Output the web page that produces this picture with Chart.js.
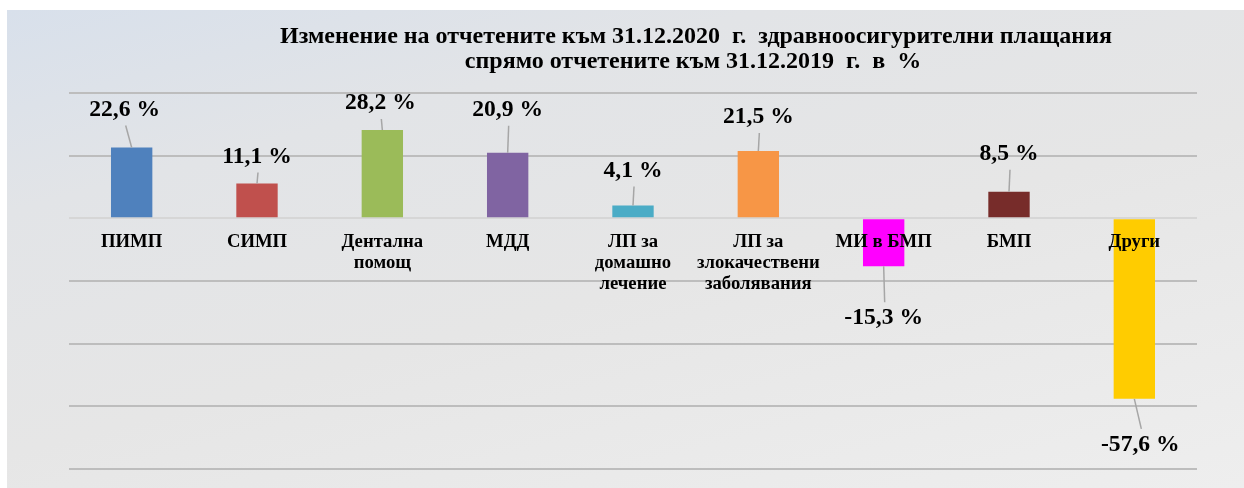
<!DOCTYPE html>
<html>
<head>
<meta charset="utf-8">
<script src="https://cdn.jsdelivr.net/npm/chart.js@4.4.1/dist/chart.umd.min.js"></script>
<style>
    html, body { margin: 0; padding: 0; background: #ffffff; }
    #panel {
        position: absolute;
        left: 7px;
        top: 10px;
        width: 1237px;
        height: 478px;
        background: linear-gradient(165deg, #d8e0eb 0%, #e2e4e7 25%, #e6e6e6 55%, #eeeeee 100%);
    }
    #chart { display: block; }
</style>
</head>
<body>
<div id="panel">
    <canvas id="chart" width="1237" height="478"></canvas>
</div>
<script>
// Data
const categories = [
    ['ПИМП'],
    ['СИМП'],
    ['Дентална', 'помощ'],
    ['МДД'],
    ['ЛП за', 'домашно', 'лечение'],
    ['ЛП за', 'злокачествени', 'заболявания'],
    ['МИ в БМП'],
    ['БМП'],
    ['Други']
];
const changePct = [22.6, 11.1, 28.2, 20.9, 4.1, 21.5, -15.3, 8.5, -57.6];
const barColors = ['#4F81BD', '#C0504D', '#9BBB59', '#8064A2', '#4BACC6', '#F79646', '#FF00FF', '#772C2A', '#FFCC00'];
const titleLines = [
    'Изменение на отчетените към 31.12.2020  г.  здравноосигурителни плащания',
    'спрямо отчетените към 31.12.2019  г.  в  %'
];
const yTicks = { min: -80, max: 40, step: 20 };

// label placement relative to the bar end (dx, gap in px)
const labelShift = [[-7, 38], [0, 27], [-2, 27], [0, 43], [0, 35], [0, 34], [0, 52], [0, 38], [6, 46]];

const FONT = '"Liberation Serif", "Times New Roman", serif';

// draws title, category names at the zero line and value labels with leader lines
const customText = {
    id: 'customText',
    afterDatasetsDraw(chart) {
        const ctx = chart.ctx;
        const xs = chart.scales.x;
        const ys = chart.scales.y;
        const zeroY = ys.getPixelForValue(0);
        const meta = chart.getDatasetMeta(0);

        ctx.save();
        ctx.textAlign = 'center';
        ctx.textBaseline = 'middle';
        ctx.fillStyle = '#000000';

        // category names
        ctx.font = 'bold 18.7px ' + FONT;
        categories.forEach((lines, i) => {
            const cx = xs.getPixelForValue(i);
            lines.forEach((line, j) => {
                ctx.fillText(line, cx, zeroY + 24 + j * 21);
            });
        });

        // value labels
        ctx.font = 'bold 23.6px ' + FONT;
        meta.data.forEach((bar, i) => {
            const v = changePct[i];
            const dir = v >= 0 ? -1 : 1;
            const lx = bar.x + labelShift[i][0];
            const ly = bar.y + dir * labelShift[i][1];
            const endY = ly - dir * 16;

            ctx.strokeStyle = '#a6a6a6';
            ctx.lineWidth = 1.5;
            ctx.beginPath();
            ctx.moveTo(bar.x, bar.y);
            ctx.lineTo(lx + 1, endY);
            ctx.stroke();

            ctx.fillText(v.toFixed(1).replace('.', ',') + ' %', lx, ly);
        });

        // title
        ctx.font = 'bold 24px ' + FONT;
        ctx.fillText(titleLines[0], 689, 27);
        ctx.fillText(titleLines[1], 686, 52);
        ctx.restore();
    }
};

new Chart(document.getElementById('chart'), {
    type: 'bar',
    data: {
        labels: categories.map(c => c.join(' ')),
        datasets: [{
            data: changePct,
            backgroundColor: barColors,
            borderWidth: 0,
            categoryPercentage: 0.33,
            barPercentage: 1
        }]
    },
    options: {
        responsive: false,
        animation: false,
        layout: {
            padding: { left: 62, right: 47, top: 83, bottom: 11 }
        },
        scales: {
            x: {
                grid: { display: false },
                border: { display: false },
                ticks: { display: false }
            },
            y: {
                min: yTicks.min,
                max: yTicks.max,
                ticks: { display: false, stepSize: yTicks.step },
                border: { display: false },
                grid: {
                    drawTicks: false,
                    lineWidth: 2,
                    color: c => (c.tick && c.tick.value === 0) ? '#d6d6d6' : '#bdbdbd'
                }
            }
        },
        plugins: {
            legend: { display: false },
            tooltip: { enabled: false }
        }
    },
    plugins: [customText]
});
</script>
</body>
</html>
